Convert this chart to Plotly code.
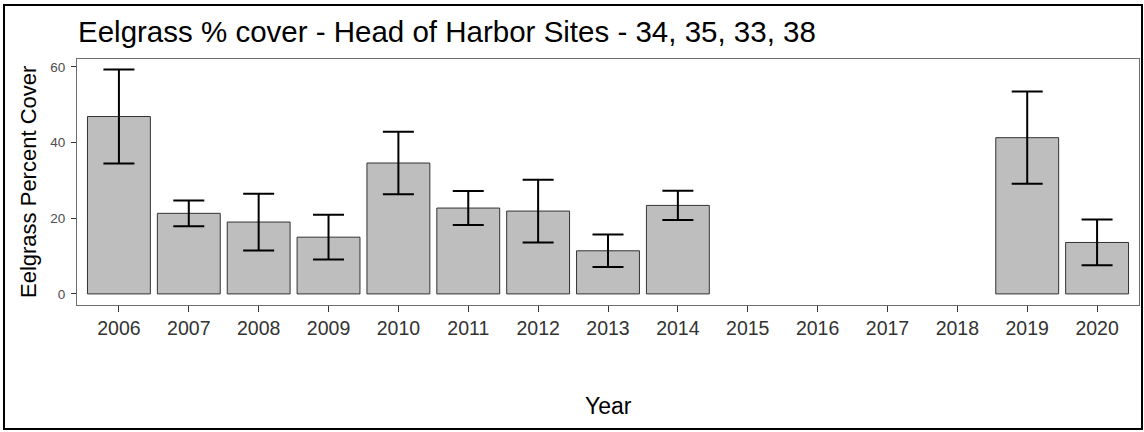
import plotly.graph_objects as go

# Дані
years = ['2006', '2007', '2008', '2009', '2010', '2011', '2012', '2013',
         '2014', '2015', '2016', '2017', '2018', '2019', '2020']
mean_cover = [46.9, 21.3, 19.0, 15.0, 34.6, 22.7, 21.9, 11.4, 23.4,
              None, None, None, None, 41.3, 13.6]
se_cover = [12.4, 3.4, 7.5, 5.9, 8.25, 4.5, 8.3, 4.3, 3.85,
            None, None, None, None, 12.2, 6.05]
y_ticks = [0, 20, 40, 60]

title_text = "Eelgrass % cover - Head of Harbor Sites - 34, 35, 33, 38"
font_name = "Liberation Sans, Arial, sans-serif"

fig = go.Figure()
fig.add_trace(go.Bar(
    x=years, y=mean_cover, width=0.9,
    marker=dict(color="#BEBEBE", line=dict(color="#333333", width=1)),
    error_y=dict(type="data", array=se_cover, visible=True,
                 color="black", thickness=2, width=15.5),
))

# Розміри області графіка (px)
W, H = 1144, 432
L, R, T, B = 77, 1139, 59, 305


def px_x(p):
    return (p - L) / (R - L)


def px_y(p):
    return (B - p) / (B - T)


fig.update_layout(
    width=W, height=H,
    margin=dict(l=L, r=W - R, t=T, b=H - B),
    paper_bgcolor="white", plot_bgcolor="white",
    font=dict(family=font_name, color="#4D4D4D"),
    showlegend=False,
    bargap=0.1,
)

fig.update_xaxes(
    type="category", categoryorder="array", categoryarray=years,
    range=[-0.6, len(years) - 0.4],
    showgrid=False, zeroline=False,
    showline=True, mirror=True, linecolor="#6E6E6E", linewidth=1,
    ticks="outside", ticklen=6, tickcolor="#333333", tickwidth=1,
    tickfont=dict(size=19.5, color="#333333"),
)
fig.update_yaxes(
    range=[-2.93, 62.1], tickvals=y_ticks,
    showgrid=False, zeroline=False,
    showline=True, mirror=True, linecolor="#6E6E6E", linewidth=1,
    ticks="outside", ticklen=5, tickcolor="#333333", tickwidth=1,
    tickfont=dict(size=13.5, color="#4D4D4D"),
    ticklabelstandoff=3,
)

# Заголовки
fig.add_annotation(text=title_text, xref="paper", yref="paper",
                   x=px_x(76), y=px_y(31), xanchor="left", yanchor="middle",
                   showarrow=False, font=dict(size=29.5, color="black"))
fig.add_annotation(text="Eelgrass Percent Cover", xref="paper", yref="paper",
                   x=px_x(28), y=0.5, textangle=-90, xanchor="center", yanchor="middle",
                   showarrow=False, font=dict(size=22, color="black"))
fig.add_annotation(text="Year", xref="paper", yref="paper",
                   x=0.5, y=px_y(406), xanchor="center", yanchor="middle",
                   showarrow=False, font=dict(size=23, color="black"))

# Зовнішня рамка
fig.add_shape(type="rect", xref="paper", yref="paper",
              x0=px_x(4), x1=px_x(1142), y0=px_y(429), y1=px_y(5),
              line=dict(color="black", width=2), layer="above")

# прибираємо відступ body, щоб графік стояв з (0, 0)
fig.write_html("out.html", config={"displayModeBar": False},
               post_script="document.body.style.margin='0';")
